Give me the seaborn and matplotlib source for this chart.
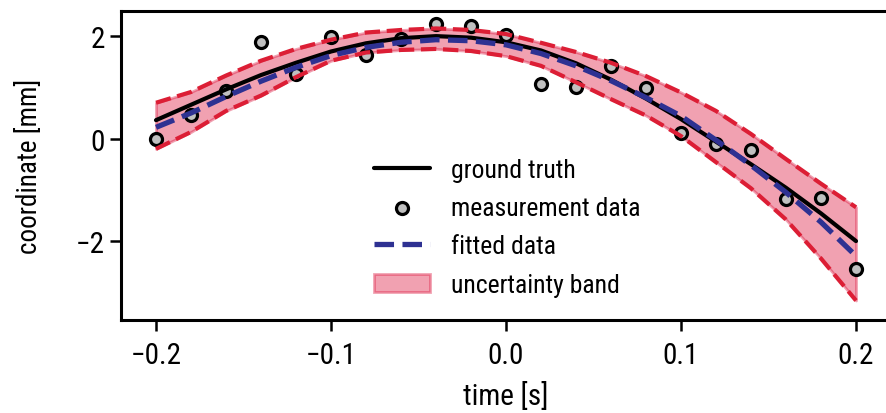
import matplotlib
matplotlib.use("Agg")
import matplotlib.pyplot as plt
import seaborn as sns

# tidpunkter och mätvärden
time = [-0.20, -0.18, -0.16, -0.14, -0.12, -0.10, -0.08, -0.06, -0.04, -0.02, 0.00,
        0.02, 0.04, 0.06, 0.08, 0.10, 0.12, 0.14, 0.16, 0.18, 0.20]
measured = [0.00, 0.46, 0.93, 1.88, 1.26, 1.98, 1.63, 1.94, 2.23, 2.20, 2.02,
            1.06, 1.00, 1.41, 0.98, 0.11, -0.11, -0.22, -1.18, -1.16, -2.55]
ground_truth = [0.36, 0.66, 0.96, 1.24, 1.48, 1.70, 1.86, 1.96, 2.00, 1.97, 1.88,
                1.72, 1.47, 1.15, 0.78, 0.38, -0.06, -0.50, -0.96, -1.46, -2.00]
fitted = [0.22, 0.50, 0.82, 1.12, 1.39, 1.62, 1.78, 1.88, 1.93, 1.91, 1.83,
          1.66, 1.42, 1.13, 0.80, 0.44, -0.03, -0.52, -1.05, -1.63, -2.29]
upper = [0.70, 0.91, 1.23, 1.52, 1.75, 1.93, 2.07, 2.12, 2.15, 2.12, 2.04,
         1.87, 1.69, 1.48, 1.22, 0.90, 0.54, 0.09, -0.40, -0.88, -1.34]
lower = [-0.20, 0.13, 0.54, 0.84, 1.20, 1.52, 1.68, 1.73, 1.75, 1.71, 1.61,
         1.42, 1.10, 0.77, 0.45, 0.05, -0.46, -0.97, -1.58, -2.34, -3.16]

x_ticks = [-0.2, -0.1, 0.0, 0.1, 0.2]
y_ticks = [-2, 0, 2]

sns.set_style("ticks")
plt.rcParams["font.family"] = ["Roboto Condensed", "Liberation Sans Narrow", "DejaVu Sans"]
plt.rcParams["font.stretch"] = "condensed"
for key in ["text.color", "axes.labelcolor", "xtick.color", "ytick.color", "axes.edgecolor"]:
    plt.rcParams[key] = "black"

fig = plt.figure(figsize=(8.87, 4.14), dpi=100)
# axeln går utanför bilden till höger, precis som i originalet
ax = fig.add_axes([121 / 887, 93 / 414, 770 / 887, 309.5 / 414])

band = ax.fill_between(time, lower, upper, color="crimson", alpha=0.4, lw=2,
                       label="uncertainty band")
sns.scatterplot(x=time, y=measured, ax=ax, color="silver", edgecolor="black",
                linewidth=2.3, s=75, label="measurement data", zorder=1)
sns.lineplot(x=time, y=upper, ax=ax, color="#dc1e35", lw=3, ls="--", legend=False)
sns.lineplot(x=time, y=lower, ax=ax, color="#dc1e35", lw=3, ls="--", legend=False)
sns.lineplot(x=time, y=ground_truth, ax=ax, color="black", lw=3, label="ground truth")
sns.lineplot(x=time, y=fitted, ax=ax, color="#2e3192", lw=3.8, ls=(0, (3.7, 1.6)),
             label="fitted data")

handles, labels = ax.get_legend_handles_labels()
order = ["ground truth", "measurement data", "fitted data", "uncertainty band"]
hmap = dict(zip(labels, handles))
ax.legend([hmap[k] for k in order], order, loc="upper left",
          bbox_to_anchor=(0.328, 0.525), frameon=False, fontsize=18.5,
          handlelength=2.2, handletextpad=0.8, labelspacing=0.56,
          borderaxespad=0, borderpad=0)

ax.set_xlim(-0.22, 0.22)
ax.set_ylim(-3.54, 2.5)
ax.set_xticks(x_ticks)
ax.set_yticks(y_ticks)
ax.set_xlabel("time [s]", fontsize=21, labelpad=9)
ax.set_ylabel("coordinate [mm]", fontsize=19.5, labelpad=24)
ax.tick_params(labelsize=21, length=8, width=1.8)
ax.tick_params(axis="x", pad=7)
ax.tick_params(axis="y", pad=3.5)
for s in ax.spines.values():
    s.set_linewidth(2.2)

fig.savefig("out.png", dpi=100)
